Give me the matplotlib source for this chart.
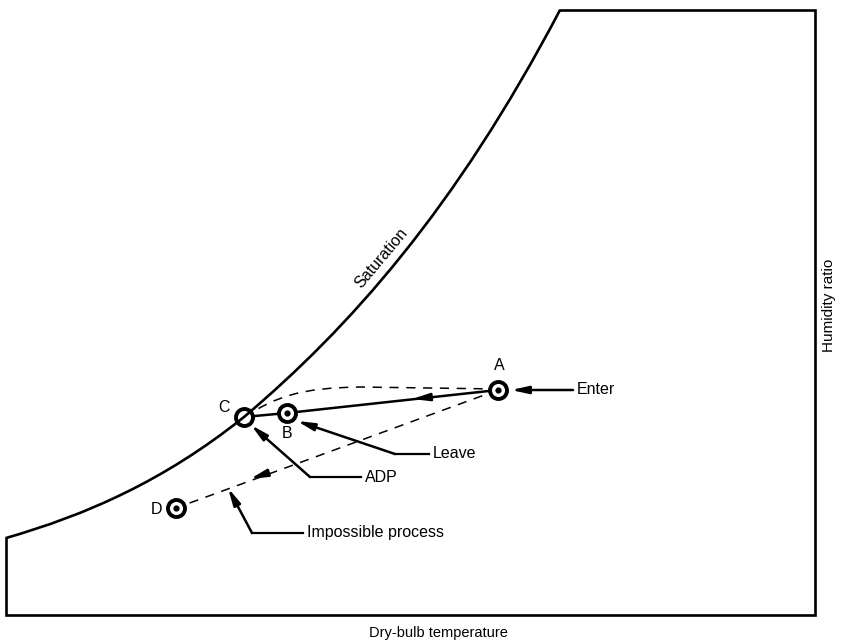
import matplotlib.pyplot as plt
from matplotlib.path import Path
from matplotlib.patches import PathPatch

# schematic psychrometric chart, coordinates (pixels)
# saturation curve as two cubic Bezier pieces: start, ctrl, ctrl, C, ctrl, ctrl, top
sat_x = [6, 86, 164, 244, 349, 455, 560]
sat_y = [538, 515, 481, 417, 328, 210, 10]
frame_x = [560, 815, 815, 6, 6]
frame_y = [10, 10, 615, 615, 538]

names = ["A", "B", "C", "D"]
pt_x = [498, 287, 244, 176]
pt_y = [390, 413, 417, 508]
lab_x = [499, 287, 224, 157]
lab_y = [366, 434, 408, 510]
has_dot = [True, True, False, True]

# dashed bend C -> A: Bezier piece then straight run
bend_x = [244, 278, 300, 360, 498]
bend_y = [417, 396, 388, 387, 389]

# leader lines: text, text x, text y, elbow x, arrow tip x, tip y
leaders = ["Enter", "Leave", "ADP", "Impossible process"]
lead_tx = [577, 433, 365, 307]
lead_ty = [390, 454, 477, 533]
lead_ex = [573, 395, 310, 252]
lead_px = [511, 297, 251, 228]
lead_py = [390, 421, 425, 488]

fig = plt.figure(figsize=(8.43, 6.42), dpi=100)
ax = fig.add_axes([0, 0, 1, 1])
ax.set_xlim(0, 843)
ax.set_ylim(642, 0)
ax.axis("off")

sat_codes = [Path.MOVETO] + [Path.CURVE4] * 6
ax.add_patch(PathPatch(Path(list(zip(sat_x, sat_y)), sat_codes), fc="none",
                       ec="black", lw=1.9, zorder=7))
ax.plot(frame_x, frame_y, color="black", lw=1.9, solid_joinstyle="miter")

# processes
bend_codes = [Path.MOVETO, Path.CURVE4, Path.CURVE4, Path.CURVE4, Path.LINETO]
ax.add_patch(PathPatch(Path(list(zip(bend_x, bend_y)), bend_codes), fc="none",
                       ec="black", lw=1.1, ls=(0, (6, 5))))
ax.plot([pt_x[0], pt_x[3]], [pt_y[0], pt_y[3]], color="black", lw=1.1, ls=(0, (6, 5)))
ax.plot(pt_x[:3], pt_y[:3], color="black", lw=1.8)

head = dict(arrowstyle="-|>,head_length=1.0,head_width=0.22", color="black",
            lw=1.8, shrinkA=0, shrinkB=0)
# direction arrows on the process lines
ax.annotate("", xy=(412, 399), xytext=(432, 397), arrowprops=head)
ax.annotate("", xy=(250, 479), xytext=(268, 473), arrowprops=head)

# state points (saturation line shows through C)
ax.scatter(pt_x, pt_y, s=150, facecolor="white", edgecolor="black", linewidth=2.8, zorder=5)
dot_x = [x for x, d in zip(pt_x, has_dot) if d]
dot_y = [y for y, d in zip(pt_y, has_dot) if d]
ax.scatter(dot_x, dot_y, s=12, color="black", zorder=6)
for n, x, y in zip(names, lab_x, lab_y):
    ax.text(x, y, n, ha="center", va="center", fontsize=11.5, family="Liberation Sans")

for t, tx, ty, ex, px, py in zip(leaders, lead_tx, lead_ty, lead_ex, lead_px, lead_py):
    ax.plot([ex, tx - 4], [ty, ty], color="black", lw=1.6)
    ax.annotate("", xy=(px, py), xytext=(ex, ty), arrowprops=head)
    ax.text(tx, ty, t, ha="left", va="center", fontsize=11.5, family="Liberation Sans")

ax.text(381, 258, "Saturation", rotation=50, ha="center", va="center",
        fontsize=11.5, family="Liberation Sans")
ax.text(829, 305, "Humidity ratio", rotation=90, ha="center", va="center",
        fontsize=11, family="Liberation Sans")
ax.text(438, 633, "Dry-bulb temperature", ha="center", va="center",
        fontsize=10.5, family="Liberation Sans")

fig.savefig("out.png", dpi=100)
